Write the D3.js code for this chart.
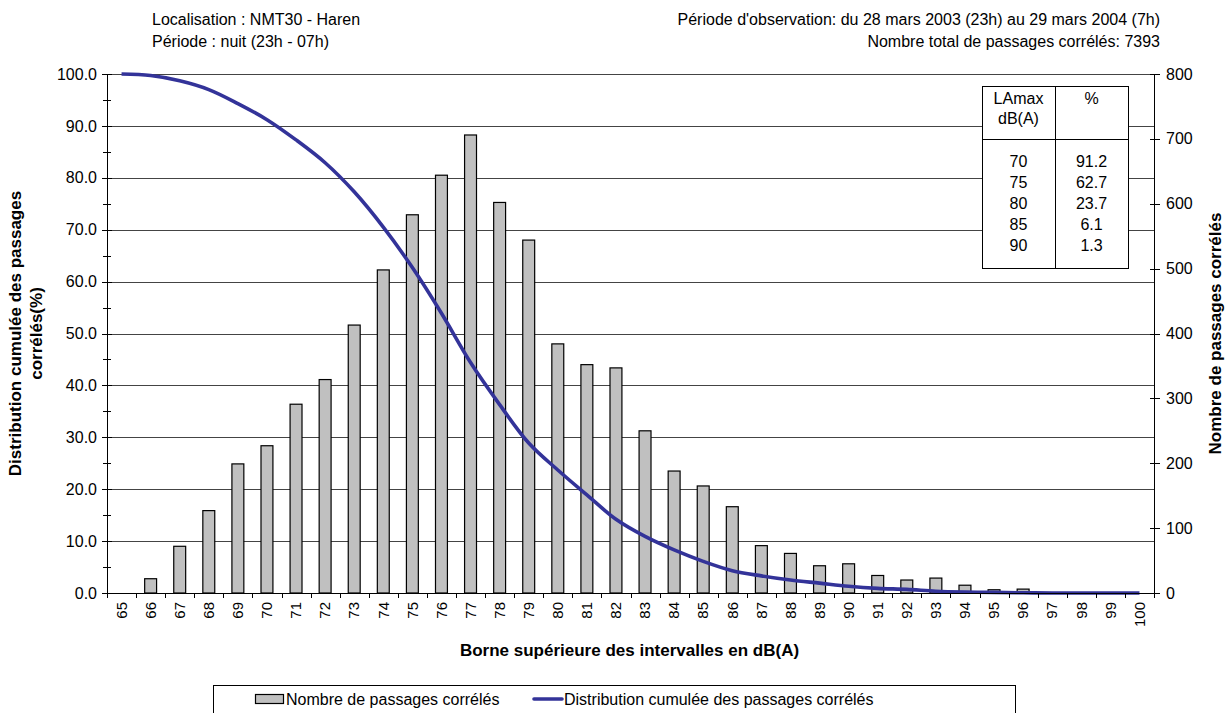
<!DOCTYPE html>
<html>
<head>
<meta charset="utf-8">
<script src="https://cdn.jsdelivr.net/npm/d3@7"></script>
<style>
  html, body { margin: 0; padding: 0; background: #fff; }
  svg { display: block; font-family: "Liberation Sans", Arial, sans-serif; }
</style>
</head>
<body>
<svg id="chart" width="1229" height="713"></svg>
<script>
// ---- Data ----
const categories = ["65","66","67","68","69","70","71","72","73","74","75","76","77","78","79","80","81","82",
  "83","84","85","86","87","88","89","90","91","92","93","94","95","96","97","98","99","100"];
const counts = [0,22,72,127,199,227,291,329,413,498,583,644,706,602,544,384,352,347,
  250,188,165,133,73,61,42,45,27,20,23,12,5,6,0,0,0,0];
const cumulative = [100.0,99.7,98.7,97.0,94.3,91.2,87.3,82.9,77.3,70.5,62.7,53.9,44.4,36.3,28.9,23.7,18.9,14.2,
  10.9,8.3,6.1,4.3,3.3,2.5,1.9,1.3,0.9,0.7,0.35,0.19,0.12,0.04,0.0,0.0,0.0,0.0];
const leftTicks = [0,10,20,30,40,50,60,70,80,90,100];
const rightTicks = [0,100,200,300,400,500,600,700,800];
const tableLevels = ["70","75","80","85","90"];
const tablePercents = ["91.2","62.7","23.7","6.1","1.3"];
const headerLeft = ["Localisation : NMT30 - Haren", "Période : nuit (23h - 07h)"];
const headerRight = ["Période d'observation: du 28 mars 2003 (23h) au 29 mars 2004 (7h)",
  "Nombre total de passages corrélés: 7393"];
const seriesNames = ["Nombre de passages corrélés", "Distribution cumulée des passages corrélés"];

// ---- Layout ----
const svg = d3.select("#chart");
const L = 107, R = 1154, T = 74, B = 593;
const x = d3.scaleBand().domain(categories).range([L, R]);
const yL = d3.scaleLinear().domain([0, 100]).range([B, T]);
const yR = d3.scaleLinear().domain([0, 800]).range([B, T]);
const fs = 16;
const barColor = "#C0C0C0", lineColor = "#333399";

// gridlines (every 10% on left axis)
svg.append("g").selectAll("line").data(leftTicks.filter(d => d > 0)).join("line")
  .attr("x1", L).attr("x2", R)
  .attr("y1", d => Math.round(yL(d)) + 0.5).attr("y2", d => Math.round(yL(d)) + 0.5)
  .attr("stroke", "#444").attr("stroke-width", 1);

// bars
const bw = x.bandwidth() * 0.41;
svg.append("g").selectAll("rect").data(categories.map((c, i) => ({c, v: counts[i]})).filter(d => d.v > 0))
  .join("rect")
  .attr("x", d => x(d.c) + x.bandwidth() / 2 - bw / 2)
  .attr("y", d => yR(d.v))
  .attr("width", bw)
  .attr("height", d => B - yR(d.v))
  .attr("fill", barColor).attr("stroke", "#000").attr("stroke-width", 1.2);

// cumulative line
const line = d3.line()
  .x((d, i) => x(categories[i]) + x.bandwidth() / 2)
  .y(d => yL(d))
  .curve(d3.curveCatmullRom.alpha(0.5));
svg.append("path").datum(cumulative)
  .attr("d", line).attr("fill", "none")
  .attr("stroke", lineColor).attr("stroke-width", 3.6)
  .attr("stroke-linejoin", "round");

// left axis
const gl = svg.append("g");
gl.append("line").attr("x1", L + 0.5).attr("x2", L + 0.5).attr("y1", T).attr("y2", B)
  .attr("stroke", "#000");
gl.selectAll("line.maj").data(leftTicks).join("line").attr("class", "maj")
  .attr("x1", L - 5).attr("x2", L + 5)
  .attr("y1", d => Math.round(yL(d)) + 0.5).attr("y2", d => Math.round(yL(d)) + 0.5)
  .attr("stroke", "#000");
gl.selectAll("line.min").data(d3.range(5, 100, 10)).join("line").attr("class", "min")
  .attr("x1", L - 4).attr("x2", L + 4)
  .attr("y1", d => Math.round(yL(d)) + 0.5).attr("y2", d => Math.round(yL(d)) + 0.5)
  .attr("stroke", "#000");
gl.selectAll("text").data(leftTicks).join("text")
  .attr("x", L - 10).attr("y", d => yL(d)).attr("dy", "0.35em")
  .attr("text-anchor", "end").attr("font-size", 16)
  .text(d => d3.format(".1f")(d));

// right axis
const gr = svg.append("g");
gr.append("line").attr("x1", R + 0.5).attr("x2", R + 0.5).attr("y1", T).attr("y2", B)
  .attr("stroke", "#000");
gr.selectAll("line.t").data(rightTicks).join("line").attr("class", "t")
  .attr("x1", R - 4).attr("x2", R + 6)
  .attr("y1", d => Math.round(yR(d)) + 0.5).attr("y2", d => Math.round(yR(d)) + 0.5)
  .attr("stroke", "#000");
gr.selectAll("text").data(rightTicks).join("text")
  .attr("x", R + 12).attr("y", d => yR(d)).attr("dy", "0.35em")
  .attr("text-anchor", "start").attr("font-size", 16)
  .text(d => d);

// bottom axis
const gb = svg.append("g");
gb.append("line").attr("x1", L).attr("x2", R).attr("y1", B + 0.5).attr("y2", B + 0.5)
  .attr("stroke", "#000");
gb.selectAll("line.t").data(categories.map(c => x(c)).concat([R])).join("line").attr("class", "t")
  .attr("x1", d => Math.round(d) + 0.5).attr("x2", d => Math.round(d) + 0.5)
  .attr("y1", B).attr("y2", B + 5)
  .attr("stroke", "#000");
gb.selectAll("text").data(categories).join("text")
  .attr("transform", d => `translate(${x(d) + x.bandwidth() / 2},${B + 9}) rotate(-90)`)
  .attr("dy", "0.35em")
  .attr("text-anchor", "end").attr("font-size", 15)
  .text(d => d);

// axis titles
svg.append("text").attr("x", (L + R) / 2 - 1).attr("y", 656)
  .attr("text-anchor", "middle").attr("font-size", 17).attr("font-weight", "bold")
  .text("Borne supérieure des intervalles en dB(A)");
svg.append("text").attr("transform", `translate(21,${(T + B) / 2}) rotate(-90)`)
  .attr("text-anchor", "middle").attr("font-size", 17).attr("font-weight", "bold")
  .text("Distribution cumulée des passages");
svg.append("text").attr("transform", `translate(42,${(T + B) / 2}) rotate(-90)`)
  .attr("text-anchor", "middle").attr("font-size", 17).attr("font-weight", "bold")
  .text("corrélés(%)");
svg.append("text").attr("transform", `translate(1221,${(T + B) / 2}) rotate(-90)`)
  .attr("text-anchor", "middle").attr("font-size", 17).attr("font-weight", "bold")
  .text("Nombre de passages corrélés");

// header texts
svg.append("g").selectAll("text").data(headerLeft).join("text")
  .attr("x", 152).attr("y", (d, i) => 25 + i * 22)
  .attr("font-size", fs).text(d => d);
svg.append("g").selectAll("text").data(headerRight).join("text")
  .attr("x", 1160).attr("y", (d, i) => 25 + i * 22)
  .attr("text-anchor", "end").attr("font-size", fs).text(d => d);

// inset table
const tb = svg.append("g");
const tx0 = 982, tx1 = 1128, tcol = 1055, ty0 = 86, ty1 = 268, thead = 139;
tb.append("rect").attr("x", tx0 + 0.5).attr("y", ty0 + 0.5).attr("width", tx1 - tx0).attr("height", ty1 - ty0)
  .attr("fill", "#fff").attr("stroke", "#000");
tb.append("line").attr("x1", tcol + 0.5).attr("x2", tcol + 0.5).attr("y1", ty0).attr("y2", ty1).attr("stroke", "#000");
tb.append("line").attr("x1", tx0).attr("x2", tx1).attr("y1", thead + 0.5).attr("y2", thead + 0.5).attr("stroke", "#000");
const c1 = (tx0 + tcol) / 2, c2 = (tcol + tx1) / 2;
tb.append("text").attr("x", c1).attr("y", 104).attr("text-anchor", "middle").attr("font-size", fs).text("LAmax");
tb.append("text").attr("x", c1).attr("y", 124).attr("text-anchor", "middle").attr("font-size", fs).text("dB(A)");
tb.append("text").attr("x", c2).attr("y", 104).attr("text-anchor", "middle").attr("font-size", fs).text("%");
tb.selectAll("text.l").data(tableLevels).join("text").attr("class", "l")
  .attr("x", c1).attr("y", (d, i) => 167 + i * 21)
  .attr("text-anchor", "middle").attr("font-size", fs).text(d => d);
tb.selectAll("text.p").data(tablePercents).join("text").attr("class", "p")
  .attr("x", c2).attr("y", (d, i) => 167 + i * 21)
  .attr("text-anchor", "middle").attr("font-size", fs).text(d => d);

// legend
const lg = svg.append("g");
lg.append("rect").attr("x", 213.5).attr("y", 685.5).attr("width", 802).attr("height", 40)
  .attr("fill", "#fff").attr("stroke", "#000");
lg.append("rect").attr("x", 255.5).attr("y", 694.5).attr("width", 28).attr("height", 9)
  .attr("fill", barColor).attr("stroke", "#000").attr("stroke-width", 1.2);
lg.append("text").attr("x", 286).attr("y", 704.5).attr("font-size", fs).text(seriesNames[0]);
lg.append("line").attr("x1", 534).attr("x2", 562).attr("y1", 699).attr("y2", 699)
  .attr("stroke", lineColor).attr("stroke-width", 3.6).attr("stroke-linecap", "round");
lg.append("text").attr("x", 564).attr("y", 704.5).attr("font-size", fs).text(seriesNames[1]);
</script>
</body>
</html>
